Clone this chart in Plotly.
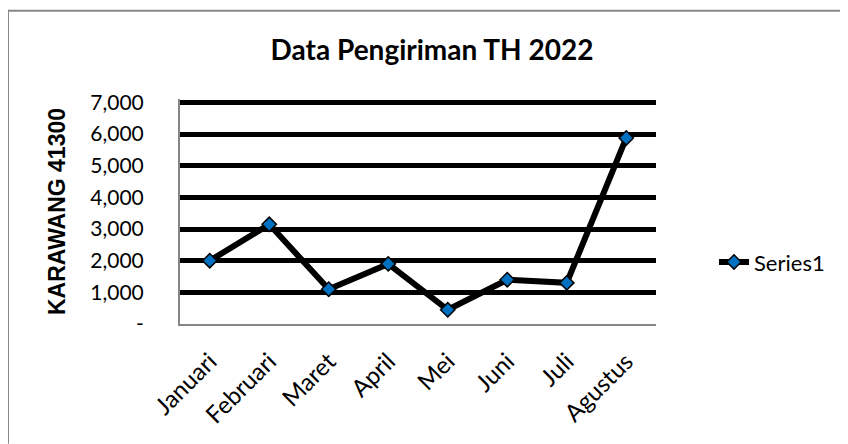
import plotly.graph_objects as go

months = ["Januari", "Februari", "Maret", "April", "Mei", "Juni", "Juli", "Agustus"]
values = [2000, 3150, 1100, 1900, 450, 1400, 1300, 5880]
series_name = "Series1"
y_tick_vals = [0, 1000, 2000, 3000, 4000, 5000, 6000, 7000]
y_tick_text = ["-", "1,000", "2,000", "3,000", "4,000", "5,000", "6,000", "7,000"]

# page body has an 8px margin; work in window pixels and convert
OFF = 8
WIN_W, WIN_H = 848, 444
W, H = WIN_W - OFF, WIN_H - OFF
PLOT_L, PLOT_R, PLOT_T, PLOT_B = 180, 656, 102, 324   # window pixels
Y_MAX = 7110
y_top_px = PLOT_B - (PLOT_B - PLOT_T) * Y_MAX / 7000

L = PLOT_L - OFF
R = WIN_W - PLOT_R
T = y_top_px - OFF
B = WIN_H - PLOT_B
pw = PLOT_R - PLOT_L
ph = PLOT_B - y_top_px

fig = go.Figure()
fig.add_trace(go.Scatter(
    x=months, y=values, name=series_name, mode="lines+markers",
    line=dict(color="black", width=6),
    marker=dict(symbol="diamond", size=11, color="#0070C0",
                line=dict(color="black", width=1.5)),
))

def px_x(p):
    return (p - PLOT_L) / pw

def px_y(p):
    return (PLOT_B - p) / ph

fig.update_layout(
    width=W, height=H,
    margin=dict(l=L, r=R, t=T, b=B, pad=0),
    paper_bgcolor="white", plot_bgcolor="white",
    font=dict(family="Lato", color="black"),
    title=dict(text="<b>Data Pengiriman TH 2022</b>",
               font=dict(family="Lato", size=28, color="black"),
               x=(432 - OFF) / W, xanchor="center", xref="container",
               y=1 - (50 - OFF) / H, yanchor="middle", yref="container"),
    showlegend=True,
    legend=dict(x=px_x(714), xanchor="left", y=px_y(262), yanchor="middle",
                font=dict(family="Lato", size=22, color="black"),
                bgcolor="rgba(0,0,0,0)"),
    xaxis=dict(
        range=[-0.5, 7.5], showgrid=False, tickangle=-45,
        showline=True, linecolor="#868686", linewidth=2,
        ticks="", ticklabelstandoff=12,
        tickfont=dict(family="Lato", size=24, color="black"),
        zeroline=False,
    ),
    yaxis=dict(
        range=[0, Y_MAX], tickvals=y_tick_vals, ticktext=y_tick_text,
        showgrid=True, gridcolor="black", gridwidth=5,
        zeroline=True, zerolinecolor="#868686", zerolinewidth=2,
        showline=True, linecolor="#868686", linewidth=2,
        ticks="", ticklabelstandoff=30,
        tickfont=dict(family="Lato", size=21, color="black"),
        title=dict(text="<b>KARAWANG 41300</b>",
                   font=dict(family="Liberation Sans", size=23, color="black"),
                   standoff=18),
    ),
    shapes=[
        dict(type="line", xref="paper", yref="paper",
             x0=px_x(8), x1=px_x(8), y0=px_y(9), y1=px_y(444),
             line=dict(color="#888888", width=2)),
        dict(type="line", xref="paper", yref="paper",
             x0=px_x(7), x1=px_x(848), y0=px_y(10), y1=px_y(10),
             line=dict(color="#888888", width=2)),
    ],
)

fig.write_html("out.html")
